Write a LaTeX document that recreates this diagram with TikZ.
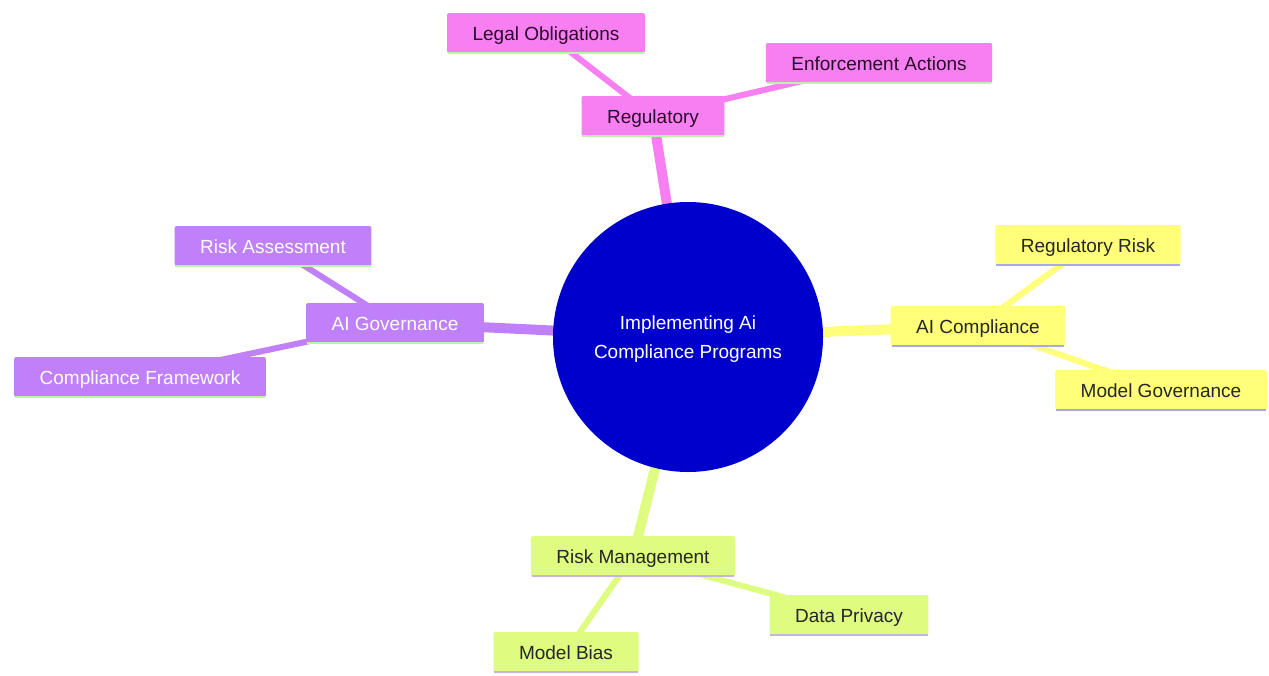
\documentclass[tikz,border=0pt]{standalone}
\usepackage{fontspec}
\setmainfont{Liberation Sans}
\usetikzlibrary{backgrounds}
\definecolor{cpink}{HTML}{F77FF2}
\definecolor{cpurple}{HTML}{C080FA}
\definecolor{cyellow}{HTML}{FFFF7A}
\definecolor{cgreen}{HTML}{DEFC80}
\definecolor{cblue}{HTML}{0000CC}
\definecolor{lgreen}{HTML}{B8F5A8}
\definecolor{lblue}{HTML}{A9A9E8}
\definecolor{lviolet}{HTML}{C6B2E8}
\definecolor{darktext}{HTML}{2A0A2A}
\begin{document}
\begin{tikzpicture}[x=1pt,y=-1pt,
  every node/.style={font=\fontsize{19}{23}\selectfont},
  box/.style={rectangle, rounded corners=2pt, minimum height=40pt, inner xsep=25.5pt, inner ysep=0pt,
    text height=16pt, text depth=1.5pt},
  pinkbox/.style={box, fill=cpink, text=darktext},
  purplebox/.style={box, fill=cpurple, text=white},
  yellowbox/.style={box, fill=cyellow, text=black!85},
  greenbox/.style={box, fill=cgreen, text=black!85},
  trunk/.style={line width=10pt},
  twig/.style={line width=6pt},
  underline/.style={line width=2.5pt}
]
\useasboundingbox (0,0) rectangle (1269,675);

\node[circle, fill=cblue, minimum size=270pt, inner sep=0pt] (root) at (688,337) {};
\node[text=white, align=center, font=\fontsize{19}{29}\selectfont] (roottext) at (688,339) {Implementing Ai\\Compliance Programs};

\node[pinkbox] (reg) at (653,116) {Regulatory};
\node[pinkbox] (legal) at (546,33) {Legal Obligations};
\node[pinkbox] (enf) at (879,63) {Enforcement Actions};

\node[purplebox] (gov) at (395,323) {AI Governance};
\node[purplebox] (riskass) at (273,246) {Risk Assessment};
\node[purplebox] (cf) at (140,377) {Compliance Framework};

\node[yellowbox] (comp) at (978,326) {AI Compliance};
\node[yellowbox] (regrisk) at (1088,245) {Regulatory Risk};
\node[yellowbox] (modgov) at (1161,390) {Model Governance};

\node[greenbox] (rm) at (633,556) {Risk Management};
\node[greenbox] (dp) at (849,615) {Data Privacy};
\node[greenbox] (mb) at (566,652) {Model Bias};

\begin{scope}[on background layer]
  \fill[white] (0,0) rectangle (1269,675);
  \draw[trunk, cpink] (root.center) -- (reg.center);
  \draw[twig, cpink] (reg.center) -- (legal.center);
  \draw[twig, cpink] (reg.center) -- (enf.center);
  \draw[trunk, cpurple] (root.center) -- (gov.center);
  \draw[twig, cpurple] (gov.center) -- (riskass.center);
  \draw[twig, cpurple] (gov.center) -- (cf.center);
  \draw[trunk, cyellow] (root.center) -- (comp.center);
  \draw[twig, cyellow] (comp.center) -- (regrisk.center);
  \draw[twig, cyellow] (comp.center) -- (modgov.center);
  \draw[trunk, cgreen] (root.center) -- (rm.center);
  \draw[twig, cgreen] (rm.center) -- (dp.center);
  \draw[twig, cgreen] (rm.center) -- (mb.center);
\end{scope}

\foreach \n/\c in {reg/lgreen, legal/lgreen, enf/lgreen, gov/lgreen, riskass/lgreen, cf/lgreen,
  comp/lblue, regrisk/lblue, modgov/lblue, rm/lviolet, dp/lviolet, mb/lviolet}
  \draw[underline, \c] ([xshift=1pt]\n.south west) -- ([xshift=-1pt]\n.south east);
\end{tikzpicture}
\end{document}
